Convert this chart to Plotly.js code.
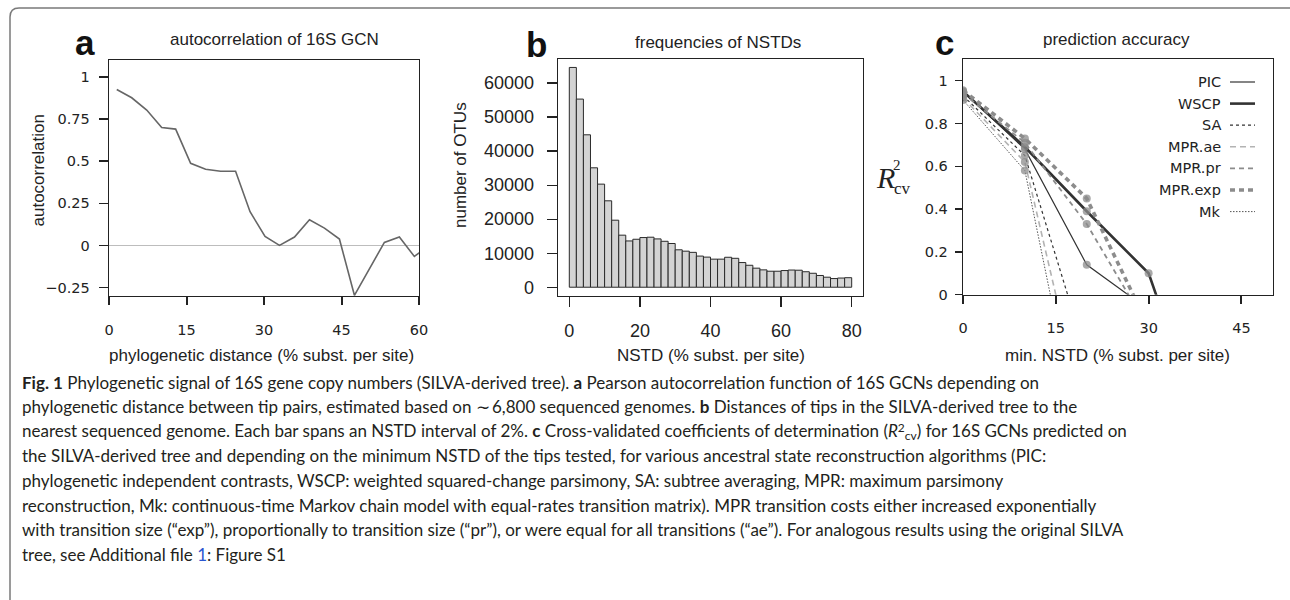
<!DOCTYPE html>
<html>
<head>
<meta charset="utf-8">
<script src="https://cdn.plot.ly/plotly-3.0.1.min.js"></script>
<style>
  html, body { margin: 0; padding: 0; background: #fff; }
  #chart { width: 1290px; height: 600px; }
</style>
</head>
<body>
<div id="chart"></div>
<script>
// ---------- Panel a: autocorrelation of 16S GCN ----------
const acDistance = [1.5, 4.4, 7.3, 10.2, 12.9, 15.8, 18.7, 21.6, 24.5, 27.3, 30.2, 33.0, 35.9, 38.8, 41.7, 44.6, 47.5, 53.3, 56.2, 59.1, 62.0];
const acValue    = [0.925, 0.876, 0.803, 0.70, 0.69, 0.487, 0.452, 0.44, 0.44, 0.20, 0.053, 0.0, 0.05, 0.152, 0.103, 0.038, -0.296, 0.018, 0.05, -0.065, 0.0];
const acXTicks = [0, 15, 30, 45, 60];
const acYTicks = [-0.25, 0, 0.25, 0.5, 0.75, 1];

// ---------- Panel b: frequencies of NSTDs (2% bins) ----------
const nstdBinCenters = [1, 3, 5, 7, 9, 11, 13, 15, 17, 19, 21, 23, 25, 27, 29, 31, 33, 35, 37, 39,
                        41, 43, 45, 47, 49, 51, 53, 55, 57, 59, 61, 63, 65, 67, 69, 71, 73, 75, 77, 79];
const otuCounts = [64600, 55300, 44800, 35100, 30300, 25400, 19700, 15300, 13600, 14100,
                   14600, 14700, 14200, 13500, 12850, 11000, 10600, 10250, 9150, 8850,
                   8250, 8250, 8800, 8500, 7250, 6450, 5600, 5100, 4700, 4700,
                   4900, 5050, 5000, 4550, 4100, 3450, 2950, 2550, 2700, 2800];
const nstdXTicks = [0, 20, 40, 60, 80];
const otuYTicks = [0, 10000, 20000, 30000, 40000, 50000, 60000];

// ---------- Panel c: prediction accuracy ----------
const minNstd    = [0, 10, 20, 30, 40];
const r2PIC      = [0.95, 0.68, 0.14, -0.07];
const r2WSCP     = [0.95, 0.69, 0.39, 0.10, -0.73];
const r2SA       = [0.93, 0.65, -0.29];
const r2MPRae    = [0.92, 0.62, -0.62];
const r2MPRpr    = [0.94, 0.71, 0.33, -0.16];
const r2MPRexp   = [0.955, 0.73, 0.45, -0.15];
const r2Mk       = [0.91, 0.58, -0.83];
const methodNames = ['PIC', 'WSCP', 'SA', 'MPR.ae', 'MPR.pr', 'MPR.exp', 'Mk'];
const accXTicks = [0, 15, 30, 45];
const accYTicks = [0, 0.2, 0.4, 0.6, 0.8, 1];

// ---------- styles ----------
const W = 1290, H = 600;
const px = v => v / W;
const py = v => 1 - v / H;
const ink = '#222';
const styles = {
  'PIC':     {color: '#333', width: 1.2, dash: 'solid'},
  'WSCP':    {color: '#333', width: 2.6, dash: 'solid'},
  'SA':      {color: '#333', width: 1.2, dash: '3px,3px'},
  'MPR.ae':  {color: '#b3b3b3', width: 1.6, dash: '6px,4px'},
  'MPR.pr':  {color: '#8c8c8c', width: 1.8, dash: '5px,4px'},
  'MPR.exp': {color: '#8c8c8c', width: 3.6, dash: '5px,4px'},
  'Mk':      {color: '#555', width: 1.0, dash: '1.5px,1.5px'}
};
const seriesY = {'PIC': r2PIC, 'WSCP': r2WSCP, 'SA': r2SA, 'MPR.ae': r2MPRae, 'MPR.pr': r2MPRpr, 'MPR.exp': r2MPRexp, 'Mk': r2Mk};

const traces = [];
traces.push({
  x: acDistance, y: acValue, type: 'scatter', mode: 'lines',
  line: {color: '#666', width: 1.6}, xaxis: 'x', yaxis: 'y', showlegend: false, hoverinfo: 'skip'
});
traces.push({
  x: nstdBinCenters, y: otuCounts, type: 'bar', width: 2,
  marker: {color: '#d3d3d3', line: {color: '#2a2a2a', width: 1}},
  xaxis: 'x2', yaxis: 'y2', showlegend: false
});
methodNames.forEach(name => {
  const ys = seriesY[name];
  traces.push({
    x: minNstd.slice(0, ys.length), y: ys, name: name, type: 'scatter', mode: 'lines+markers',
    line: {color: styles[name].color, width: styles[name].width, dash: styles[name].dash},
    marker: {color: 'rgba(140,140,140,0.75)', size: 8},
    xaxis: 'x3', yaxis: 'y3', showlegend: false
  });
});

const tickFontA = {family: 'DejaVu Sans', size: 14.5, color: ink};
const tickFontB = {family: 'Liberation Sans, Arial, sans-serif', size: 18, color: ink};
const titleFont = {family: 'Liberation Sans, Arial, sans-serif', size: 17, color: ink};
const baseAxis = {
  showline: true, mirror: true, linecolor: ink, linewidth: 1.3,
  ticks: 'outside', tickcolor: ink, showgrid: false, zeroline: false, fixedrange: true
};

const layout = {
  width: W, height: H,
  margin: {l: 0, r: 0, t: 0, b: 0},
  paper_bgcolor: '#fff', plot_bgcolor: '#fff',
  showlegend: false,
  bargap: 0,
  xaxis: Object.assign({}, baseAxis, {
    domain: [px(109), px(419)], anchor: 'y', range: [0, 60],
    tickmode: 'array', tickvals: acXTicks, ticklen: 8, tickwidth: 2,
    tickfont: tickFontA, ticklabelstandoff: 12
  }),
  yaxis: Object.assign({}, baseAxis, {
    domain: [py(296), py(60)], anchor: 'x', range: [-0.3, 1.1],
    tickmode: 'array', tickvals: acYTicks, ticktext: acYTicks.map(v => v < 0 ? '\u2212' + Math.abs(v) : String(v)),
    ticklen: 9, tickwidth: 1.5, tickfont: tickFontA, ticklabelstandoff: 6,
    zeroline: true, zerolinecolor: '#bdbdbd', zerolinewidth: 1.5
  }),
  xaxis2: Object.assign({}, baseAxis, {
    domain: [px(558), px(863)], anchor: 'y2', range: [-3.2, 83.2],
    tickmode: 'array', tickvals: nstdXTicks, ticklen: 10, tickwidth: 1.3,
    tickfont: tickFontB, ticklabelstandoff: 8
  }),
  yaxis2: Object.assign({}, baseAxis, {
    domain: [py(296), py(59)], anchor: 'x2', range: [-2580, 67080],
    tickmode: 'array', tickvals: otuYTicks, tickformat: 'd', ticklen: 10, tickwidth: 1.3,
    tickfont: tickFontB, ticklabelstandoff: 9
  }),
  xaxis3: Object.assign({}, baseAxis, {
    domain: [px(963), px(1273)], anchor: 'y3', range: [0, 50.1],
    tickmode: 'array', tickvals: accXTicks, ticklen: 8, tickwidth: 2,
    tickfont: tickFontA, ticklabelstandoff: 12
  }),
  yaxis3: Object.assign({}, baseAxis, {
    domain: [py(294.7), py(59.3)], anchor: 'x3', range: [0, 1.1],
    tickmode: 'array', tickvals: accYTicks, ticklen: 7, tickwidth: 1.5,
    tickfont: tickFontA, ticklabelstandoff: 4
  }),
  annotations: [],
  shapes: []
};

const ann = (text, x, y, font, extra) => Object.assign({
  text: text, x: px(x), y: py(y), xref: 'paper', yref: 'paper',
  showarrow: false, xanchor: 'center', yanchor: 'middle', font: font
}, extra || {});
const letterFont = {family: 'Liberation Sans, Arial, sans-serif', size: 35, color: '#111', weight: 'bold'};

// panel letters and titles
layout.annotations.push(ann('a', 85, 42, letterFont));
layout.annotations.push(ann('b', 536, 44, letterFont));
layout.annotations.push(ann('c', 944, 42, letterFont));
layout.annotations.push(ann('autocorrelation of 16S GCN', 274, 40, titleFont));
layout.annotations.push(ann('frequencies of NSTDs', 718, 43, titleFont));
layout.annotations.push(ann('prediction accuracy', 1116, 40, titleFont));
// axis titles
layout.annotations.push(ann('phylogenetic distance (% subst. per site)', 261, 355, titleFont));
layout.annotations.push(ann('NSTD (% subst. per site)', 711, 355, titleFont));
layout.annotations.push(ann('min. NSTD (% subst. per site)', 1117, 355, titleFont));
layout.annotations.push(ann('autocorrelation', 38.5, 171, titleFont, {textangle: -90}));
layout.annotations.push(ann('number of OTUs', 460, 165, titleFont, {textangle: -90}));
const serif = {family: 'Liberation Serif, DejaVu Serif, serif', size: 30, color: ink, style: 'italic'};
layout.annotations.push(ann('R', 885, 178, serif));
layout.annotations.push(ann('2', 897, 165, {family: 'Liberation Serif, serif', size: 15, color: ink}));
layout.annotations.push(ann('cv', 903, 188, {family: 'Liberation Serif, serif', size: 17, color: ink}));

// legend (panel c)
const legendFont = {family: 'DejaVu Sans', size: 14.5, color: ink};
methodNames.forEach((name, i) => {
  const yy = 82 + 21.6 * i;
  layout.annotations.push(ann(name, 1223, yy, legendFont, {xanchor: 'right'}));
  layout.shapes.push({
    type: 'line', xref: 'paper', yref: 'paper',
    x0: px(1230), x1: px(1255), y0: py(yy), y1: py(yy),
    line: {color: styles[name].color, width: styles[name].width, dash: styles[name].dash}
  });
});

// figure frame
layout.shapes.push({
  type: 'path', xref: 'paper', yref: 'paper',
  path: `M ${px(10)},${py(610)} L ${px(10)},${py(17)} Q ${px(10)},${py(8)} ${px(19)},${py(8)} L ${px(1300)},${py(8)}`,
  line: {color: '#7a7a7a', width: 1.5}
});

// caption
const capFont = {family: 'Lato, Open Sans, sans-serif', size: 17, color: '#231f20'};
const r2cv = '<i>R</i><span style="font-size:12px;baseline-shift:45%">2</span><span style="font-size:12px;baseline-shift:-25%">cv</span>';
const captionLines = [
  '<b>Fig. 1</b> Phylogenetic signal of 16S gene copy numbers (SILVA-derived tree). <b>a</b> Pearson autocorrelation function of 16S GCNs depending on',
  'phylogenetic distance between tip pairs, estimated based on \u223c\u20096,800 sequenced genomes. <b>b</b> Distances of tips in the SILVA-derived tree to the',
  'nearest sequenced genome. Each bar spans an NSTD interval of 2%. <b>c</b> Cross-validated coefficients of determination (' + r2cv + ') for 16S GCNs predicted on',
  'the SILVA-derived tree and depending on the minimum NSTD of the tips tested, for various ancestral state reconstruction algorithms (PIC:',
  'phylogenetic independent contrasts, WSCP: weighted squared-change parsimony, SA: subtree averaging, MPR: maximum parsimony',
  'reconstruction, Mk: continuous-time Markov chain model with equal-rates transition matrix). MPR transition costs either increased exponentially',
  'with transition size (\u201cexp\u201d), proportionally to transition size (\u201cpr\u201d), or were equal for all transitions (\u201cae\u201d). For analogous results using the original SILVA',
  'tree, see Additional file <span style="color:#2a55d0">1</span>: Figure S1'
];
captionLines.forEach((line, i) => {
  layout.annotations.push(ann(line, 20, 382 + 24.6 * i, capFont, {xanchor: 'left', align: 'left'}));
});

Plotly.newPlot('chart', traces, layout, {staticPlot: true, displayModeBar: false});
</script>
</body>
</html>
